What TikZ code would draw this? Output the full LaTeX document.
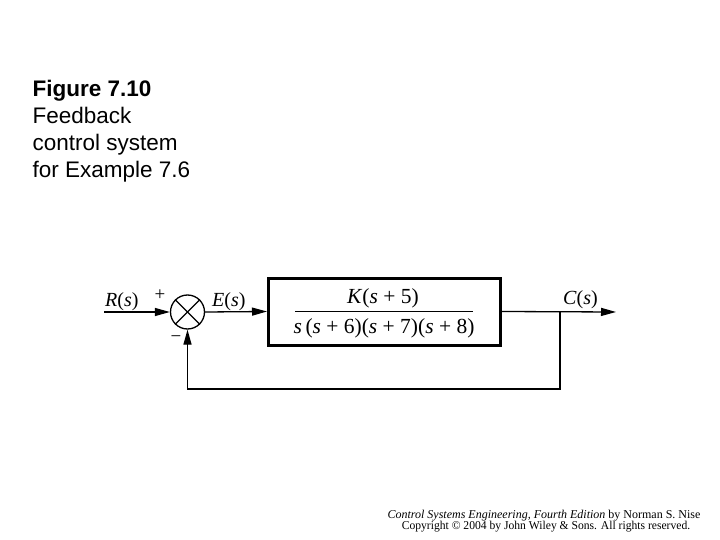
\documentclass[tikz,border=0pt]{standalone}
\usepackage{fontspec}
\setmainfont{Liberation Serif}
\newfontfamily\arialf{Liberation Sans}
\usetikzlibrary{arrows.meta}
\begin{document}
\begin{tikzpicture}[x=1pt,y=-1pt,
  wire/.style={line width=1.3pt},
  conn/.style={wire, -{Triangle[length=15pt,width=8pt]}},
  lbl/.style={inner sep=0pt, anchor=base west, font=\fontsize{20}{24}\selectfont},
  sgn/.style={inner sep=0pt, font=\fontsize{19}{22}\selectfont},
  blocktxt/.style={inner sep=0pt, anchor=base, font=\fontsize{21.5}{26}\selectfont},
  title/.style={inner sep=0pt, anchor=base west, font=\arialf\fontsize{22.5}{27}\selectfont},
  foot/.style={inner sep=0pt, anchor=base, font=\fontsize{12}{14}\selectfont}]
\useasboundingbox (0,0) rectangle (720,540);

% caption
\node[title, font=\arialf\bfseries\fontsize{22.5}{27}\selectfont] (t1) at (32.5,97) {Figure 7.10};
\node[title] (t2) at (32.5,123.7) {Feedback};
\node[title] (t3) at (32.5,150.5) {control system};
\node[title] (t4) at (32.5,177.3) {for Example 7.6};

% blocks
\node[draw, circle, wire, minimum size=34pt, inner sep=0pt] (S) at (187.5,312) {};
\draw[wire] (S.north east) -- (S.south west);
\draw[wire] (S.north west) -- (S.south east);
\node[draw, line width=3pt, minimum width=232pt, minimum height=67pt, inner sep=0pt] (G) at (384.5,311.5) {};
\node[blocktxt] (num) at (383,303.3) {\textit{K}(\textit{s} + 5)};
\node[blocktxt] (den) at (384,333.3) {\textit{s}\,(\textit{s} + 6)(\textit{s} + 7)(\textit{s} + 8)};
\coordinate (b1) at (295,311.7);
\coordinate (b2) at (473,311.7);
\draw[line width=1.2pt] (b1) -- (b2);

% connectors
\coordinate (in) at (104,312);
\coordinate (br) at (560,312);
\coordinate (out) at (616,312);
\coordinate (fb) at (560,389);
\draw[conn] (in) -- (S.west);
\draw[conn] (S.east) -- (G.west);
\draw[conn] (G.east) -- (out);
\draw[conn] (br) -- (fb) -| (S.south);

% labels
\node[lbl] (R) at (105,306) {\textit{R}(\textit{s})};
\node[sgn] (plus) at (160,295) {+};
\node[lbl] (E) at (212,306) {\textit{E}(\textit{s})};
\node[sgn] (minus) at (176,339) {−};
\node[lbl] (C) at (563,304) {\textit{C}(\textit{s})};

% footer
\node[foot] (f1) at (544,518.3) {\textit{Control Systems Engineering, Fourth Edition} by Norman S. Nise};
\node[foot] (f2) at (546,529.3) {\scalebox{0.967}[1]{Copyright © 2004 by John Wiley \& Sons. All rights reserved.}};
\end{tikzpicture}
\end{document}
